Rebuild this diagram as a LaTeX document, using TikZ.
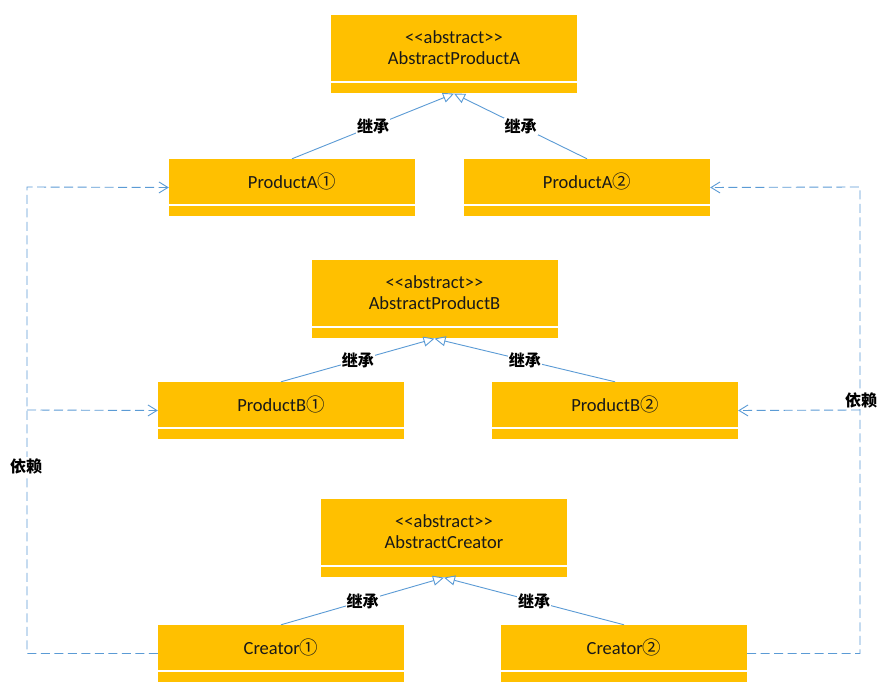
\documentclass[tikz,border=0pt]{standalone}
\usepackage{fontspec}
\setmainfont{Carlito}[Ligatures=TeXOff]
\newfontfamily\cjk{Noto Sans CJK SC}
\usetikzlibrary{arrows.meta}
\definecolor{boxfill}{HTML}{FFC000}
\definecolor{linkblue}{HTML}{5B9BD5}
\newcommand{\cn}[1]{{\cjk #1}}
\newcommand{\umlbox}[5]{%
  \node[boxtop, minimum height=#4] (#1) at (#2,#3) {#5};
  \node[boxstrip, anchor=north] (#1s) at ([yshift=-1.3pt]#1.south) {};
}
\tikzset{
  boxtop/.style={fill=boxfill, minimum width=246pt, inner sep=0pt, align=center,
    font=\fontsize{18.5}{21}\selectfont, text=black!90},
  boxstrip/.style={fill=boxfill, minimum width=246pt, minimum height=10.7pt, inner sep=0pt},
  inherit/.style={draw=linkblue, line width=0.9pt,
    -{Triangle[open, length=11pt, width=10pt, line width=0.9pt]}},
  dep/.style={draw=linkblue, line width=0.9pt, dash pattern=on 9pt off 4.5pt,
    -{Straight Barb[length=9pt, width=11pt, line width=0.9pt]}},
  deplabel/.style={fill=white, inner sep=1pt, font=\cjk\fontsize{16}{18}\selectfont\bfseries},
  rellabel/.style={fill=white, inner sep=1pt, font=\cjk\fontsize{16}{18}\selectfont\bfseries},
}
\begin{document}
\begin{tikzpicture}[x=1pt,y=1pt]
\useasboundingbox (0,0) rectangle (895,695);
\fill[white] (0,0) rectangle (895,695);

\umlbox{apa}{454}{647}{66}{<<abstract>>\\AbstractProductA}
\umlbox{pa1}{292}{513.5}{45}{ProductA\cn{①}}
\umlbox{pa2}{587}{513.5}{45}{ProductA\cn{②}}
\umlbox{apb}{434.5}{402}{66}{<<abstract>>\\AbstractProductB}
\umlbox{pb1}{281}{290.5}{45}{ProductB\cn{①}}
\umlbox{pb2}{615}{290.5}{45}{ProductB\cn{②}}
\umlbox{ac}{444}{163}{66}{<<abstract>>\\AbstractCreator}
\umlbox{c1}{281}{47.5}{45}{Creator\cn{①}}
\umlbox{c2}{624}{47.5}{45}{Creator\cn{②}}

% inheritance
\draw[inherit] (pa1.north) -- node[rellabel, pos=0.5]{继承} (apas.south);
\draw[inherit] (pa2.north) -- node[rellabel, pos=0.5]{继承} (apas.south);
\draw[inherit] (pb1.north) -- node[rellabel, pos=0.5]{继承} (apbs.south);
\draw[inherit] (pb2.north) -- node[rellabel, pos=0.5]{继承} (apbs.south);
\draw[inherit] (c1.north) -- node[rellabel, pos=0.5]{继承} (acs.south);
\draw[inherit] (c2.north) -- node[rellabel, pos=0.5]{继承} (acs.south);

% dependencies
\coordinate (lt) at (27,508);
\coordinate (lb) at (27,285);
\coordinate (rt) at (860,508);
\coordinate (rb) at (860,285);
\draw[dep] ([yshift=-6pt]c1.west) -| (lt) -- ([yshift=-6pt]pa1.west);
\draw[dep] (lb) -- ([yshift=-6pt]pb1.west);
\draw[dep] ([yshift=-6pt]c2.east) -| (rt) -- ([yshift=-6pt]pa2.east);
\draw[dep] (rb) -- ([yshift=-6pt]pb2.east);
\node[deplabel] (dl) at (26,229) {依赖};
\node[deplabel] (dr) at (861,295) {依赖};
\end{tikzpicture}
\end{document}
